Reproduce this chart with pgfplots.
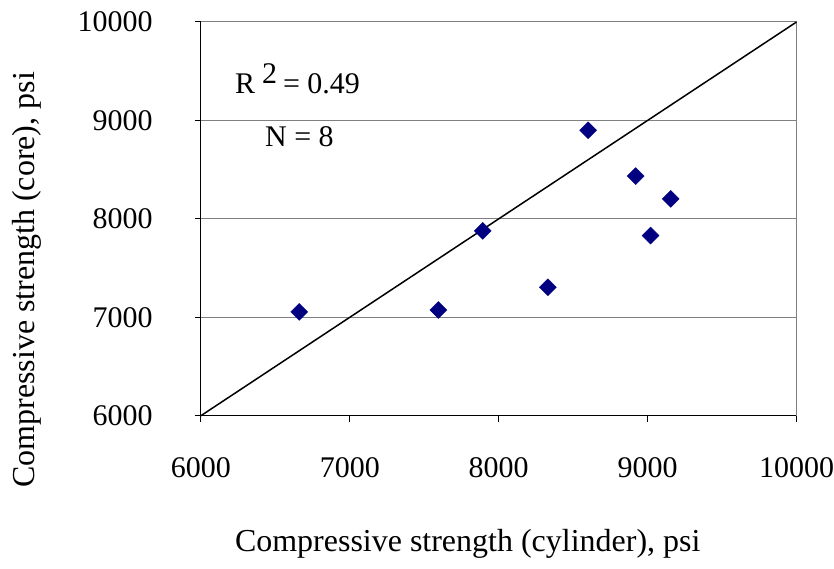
\documentclass[border=0pt]{standalone}
\usepackage{fontspec}
\setmainfont{Liberation Serif}
\usepackage{pgfplots}
\pgfplotsset{compat=1.18}
\definecolor{navy}{HTML}{000080}
\begin{document}
\fontsize{30}{36}\selectfont
\begin{tikzpicture}
\begin{axis}[
  scale only axis,
  width=596pt, height=394pt,
  xmin=6000, xmax=10000, ymin=6000, ymax=10000,
  xtick={6000,7000,8000,9000,10000},
  ytick={6000,7000,8000,9000,10000},
  scaled ticks=false,
  axis lines*=left,
  tick align=outside,
  major tick length=6pt,
  ymajorgrids,
  grid style={gray, line width=1pt},
  axis line style={black, line width=1pt},
  tick style={black, line width=1pt},
  /pgf/number format/assume math mode=true,
  /pgf/number format/1000 sep={},
  ticklabel style={font=\fontsize{30}{36}\selectfont, inner sep=0pt},
  xticklabel style={yshift=-36pt},
  yticklabel style={xshift=-42pt},
  xlabel={Compressive strength (cylinder), psi},
  ylabel={Compressive strength (core), psi},
  label style={font=\fontsize{32}{38}\selectfont},
  xlabel style={at={(axis description cs:0.448,-0.345)}, anchor=base},
  ylabel style={at={(axis description cs:-0.292,0.345)}, anchor=center},
  clip=false,
]
\path ([shift={(-201pt,-148pt)}]rel axis cs:0,0) rectangle ([shift={(37pt,22pt)}]rel axis cs:1,1);
\draw[gray, line width=1pt] (rel axis cs:1,0) -- (rel axis cs:1,1);
\addplot[black, line width=1.5pt, no marks] coordinates {(6000,6000) (10000,10000)};
\addplot[only marks, mark=square*, mark size=6pt, mark options={rotate=45, fill=navy, draw=navy}] coordinates {
(6660,7055) (7595,7075) (7893,7878) (8330,7305) (8600,8900) (8920,8435) (9020,7830) (9155,8203)};
\node[anchor=base west, inner sep=0pt] at (axis cs:6228,9269) {R\hspace{7pt}\raisebox{10pt}{2}\hspace{6pt}= 0.49};
\node[anchor=base west, inner sep=0pt] at (axis cs:6430,8731) {N = 8};
\end{axis}
\end{tikzpicture}
\end{document}
